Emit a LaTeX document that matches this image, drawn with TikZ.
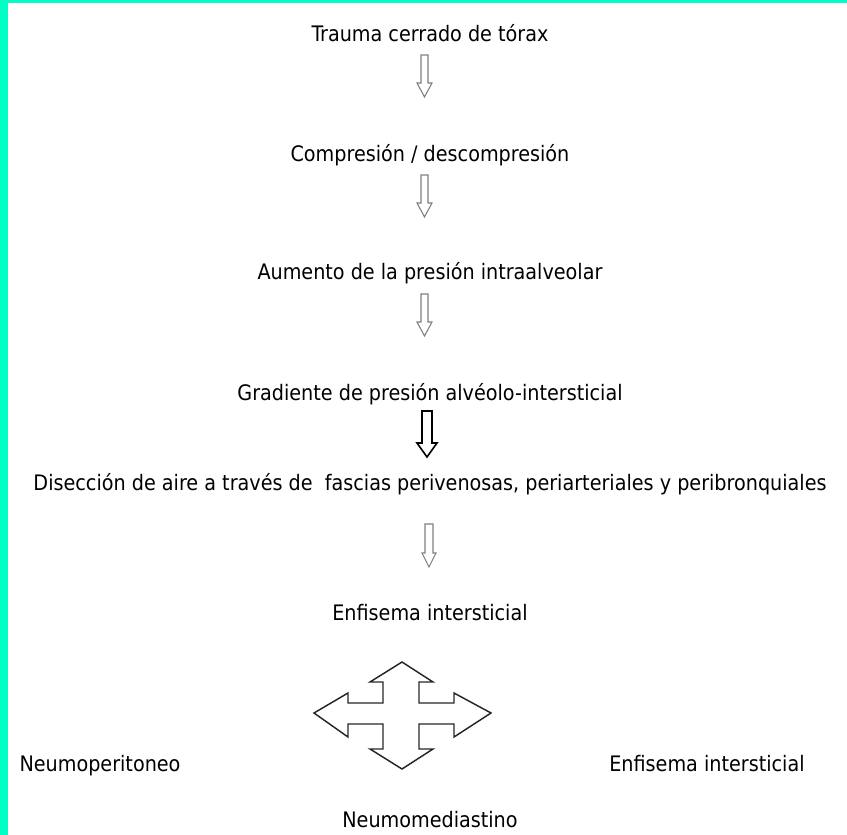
\documentclass[tikz,border=0pt]{standalone}
\usepackage{fontspec}
\setmainfont{DejaVu Sans Condensed}
\usetikzlibrary{positioning}
\definecolor{borde}{RGB}{0,255,196}
\tikzstyle{paso} = [inner sep=0pt, font=\fontsize{16}{18}\selectfont]
\tikzstyle{flecha} = [draw=gray, line width=0.8pt, fill=white]
\tikzstyle{flechab} = [draw=black, line width=1.2pt, fill=white]
\tikzstyle{cruz} = [draw=black!85, line width=1.1pt, line join=miter]
\tikzset{pics/abajo/.style n args={4}{code={
  \draw[pic actions] (-#2,0) -- (-#2,#1-#4) -- (-#3,#1-#4) -- (0,#1) -- (#3,#1-#4) -- (#2,#1-#4) -- (#2,0) -- cycle;}}}

\begin{document}
\begin{tikzpicture}[x=0.75pt, y=-0.75pt]
\fill[borde] (0,0) rectangle (847,3);
\fill[borde] (0,0) rectangle (8,835);
\useasboundingbox (0,0) rectangle (847,835);

\node(T)[paso] at (430,33) {Trauma cerrado de tórax};
\node(C)[paso] at (430,155) {Compresión / descompresión};
\node(A)[paso] at (430,273) {Aumento de la presión intraalveolar};
\node(G)[paso] at (430,394) {Gradiente de presión alvéolo-intersticial};
\node(D)[paso] at (430,484) {Disección de aire a través de \ fascias perivenosas, periarteriales y peribronquiales};
\node(E)[paso] at (430,613) {Enfisema intersticial};
\node(P)[paso, anchor=base] at (100,771) {Neumoperitoneo};
\node(I)[paso, anchor=base] at (707,771) {Enfisema intersticial};
\node(M)[paso] at (430,820) {Neumomediastino};

% flechas huecas
\pic(f1)[flecha] at (424.5,55) {abajo={42}{3.5}{7.5}{14}};
\pic(f2)[flecha] at (424.5,175) {abajo={42}{3.5}{7.5}{14}};
\pic(f3)[flecha] at (424.5,294) {abajo={42}{3.5}{7.5}{14}};
\pic(f4)[flechab] at (427,411) {abajo={46}{5}{10}{14}};
\pic(f5)[flecha] at (429,524) {abajo={43}{4}{7}{14}};

% cruz de cuatro flechas
\draw[cruz] (402,662) -- (433,682) -- (419,682) -- (419,703) -- (454,703) -- (454,693)
  -- (491,713) -- (454,737) -- (454,724) -- (419,724) -- (419,749) -- (433,749)
  -- (402,769) -- (370,749) -- (383,749) -- (383,724) -- (348,724) -- (348,737)
  -- (314,713) -- (348,693) -- (348,703) -- (383,703) -- (383,682) -- (370,682) -- cycle;
\end{tikzpicture}
\end{document}
